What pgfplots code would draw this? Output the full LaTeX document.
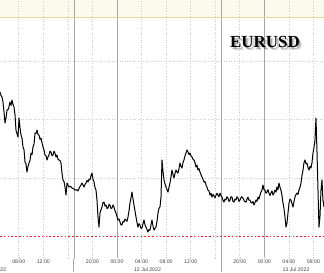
\documentclass[border=0pt]{standalone}
\usepackage{pgfplots}
\pgfplotsset{compat=1.18}
\usepackage{fontspec}
\setmainfont{Liberation Sans}
\newfontfamily\serifb{Liberation Serif}
\definecolor{cream}{RGB}{252,250,236}
\definecolor{tanline}{RGB}{226,214,165}
\definecolor{parity}{RGB}{226,42,52}
\definecolor{gridgray}{RGB}{205,205,205}
\definecolor{sessgray}{RGB}{165,165,165}
\begin{document}
\begin{tikzpicture}
\begin{axis}[
  set layers,
  at={(0,14bp)}, anchor=south west,
  width=324bp, height=259bp, scale only axis,
  xmin=4.945, xmax=57.72, ymin=0.99808, ymax=1.02021,
  axis line style={draw=none},
  ytick={1.000,1.005,1.010,1.015}, yticklabels={},
  ytick style={draw=none},
  xtick={8,12,16,20,28,32,36,40,44,52,56},
  xticklabels={08:00,12:00,,20:00,04:00,08:00,12:00,,20:00,04:00,08:00},
  extra x ticks={24,48},
  extra x tick labels={00:00,00:00},
  extra x tick style={major grid style={solid, sessgray, line width=0.7bp}},
  xmajorgrids, ymajorgrids,
  grid style={gridgray, line width=0.6bp, dash pattern=on 1bp off 1.6bp},
  tick pos=bottom,
  major tick length=2bp,
  xtick style={gridgray, line width=0.5bp},
  x tick label style={font=\fontsize{5.2}{5.2}\selectfont, text=black!75, inner sep=1bp},
  clip=true,
]
% cream band at top
\addplot[on layer=axis background, fill=cream, draw=none] coordinates {(4.945,1.01876) (57.72,1.01876) (57.72,1.02021) (4.945,1.02021) (4.945,1.01876)};
% session lines (17:00 NY close)
\addplot[sessgray, line width=0.7bp] coordinates {(17,0.99808) (17,1.02021)};
\addplot[sessgray, line width=0.7bp] coordinates {(41,0.99808) (41,1.02021)};
% reference level
\addplot[tanline, line width=0.8bp] coordinates {(4.945,1.01876) (57.72,1.01876)};
% parity
\addplot[parity, line width=1.6bp, dash pattern=on 1.5bp off 2.3bp] coordinates {(4.945,1.0000) (57.72,1.0000)};
% EURUSD
\addplot[black, line width=1.0bp, line join=round] table {
t p
4.95 1.01235
5.11 1.01205
5.27 1.01192
5.43 1.01150
5.60 1.01064
5.76 1.00970
5.92 1.01010
6.09 1.01081
6.33 1.01090
6.57 1.01149
6.74 1.01120
6.90 1.01166
7.06 1.01130
7.22 1.01107
7.39 1.01040
7.55 1.00910
7.71 1.00880
7.88 1.00850
8.04 1.01013
8.20 1.00930
8.37 1.00867
8.53 1.00840
8.69 1.00765
8.86 1.00740
9.02 1.00636
9.18 1.00620
9.34 1.00551
9.51 1.00600
9.67 1.00628
9.83 1.00650
10.00 1.00713
10.16 1.00700
10.32 1.00765
10.49 1.00790
10.65 1.00884
10.81 1.00880
10.97 1.00910
11.14 1.00870
11.30 1.00867
11.46 1.00830
11.62 1.00842
11.79 1.00800
11.95 1.00765
12.11 1.00740
12.27 1.00696
12.44 1.00690
12.60 1.00654
12.76 1.00680
12.93 1.00696
13.09 1.00730
13.25 1.00722
13.41 1.00690
13.58 1.00696
13.74 1.00730
13.90 1.00713
14.07 1.00680
14.23 1.00696
14.39 1.00660
14.55 1.00654
14.72 1.00650
14.88 1.00628
15.04 1.00542
15.21 1.00483
15.37 1.00470
15.53 1.00423
15.69 1.00354
15.86 1.00457
16.02 1.00440
16.18 1.00423
16.43 1.00430
16.67 1.00414
16.92 1.00410
17.16 1.00397
17.41 1.00400
17.65 1.00389
17.89 1.00420
18.14 1.00440
18.30 1.00457
18.46 1.00440
18.63 1.00423
18.79 1.00445
18.95 1.00457
19.12 1.00480
19.28 1.00465
19.44 1.00490
19.60 1.00483
19.77 1.00520
19.93 1.00542
20.09 1.00490
20.26 1.00465
20.42 1.00420
20.58 1.00397
20.74 1.00312
20.91 1.00166
21.07 1.00081
21.23 1.00201
21.40 1.00230
21.56 1.00252
21.72 1.00290
21.88 1.00294
22.05 1.00260
22.21 1.00269
22.37 1.00240
22.54 1.00243
22.70 1.00275
22.86 1.00269
23.02 1.00240
23.19 1.00243
23.35 1.00270
23.51 1.00252
23.68 1.00220
23.84 1.00201
24.00 1.00170
24.16 1.00141
24.33 1.00150
24.49 1.00124
24.65 1.00100
24.81 1.00098
24.98 1.00130
25.14 1.00124
25.30 1.00150
25.47 1.00141
25.63 1.00130
25.79 1.00166
25.96 1.00220
26.12 1.00286
26.28 1.00330
26.44 1.00380
26.61 1.00320
26.77 1.00269
26.93 1.00220
27.10 1.00166
27.26 1.00120
27.42 1.00081
27.59 1.00110
27.75 1.00098
27.91 1.00070
28.07 1.00072
28.24 1.00110
28.40 1.00141
28.56 1.00100
28.72 1.00081
28.89 1.00060
29.05 1.00038
29.21 1.00060
29.38 1.00055
29.54 1.00100
29.70 1.00141
29.86 1.00090
30.03 1.00055
30.19 1.00070
30.35 1.00081
30.52 1.00130
30.68 1.00201
30.84 1.00240
31.00 1.00252
31.17 1.00337
31.33 1.00654
31.49 1.00560
31.66 1.00483
31.82 1.00450
31.98 1.00423
32.15 1.00400
32.31 1.00380
32.47 1.00420
32.63 1.00457
32.80 1.00510
32.96 1.00568
33.12 1.00530
33.29 1.00500
33.45 1.00540
33.61 1.00568
33.78 1.00550
33.94 1.00542
34.10 1.00580
34.26 1.00628
34.43 1.00600
34.59 1.00585
34.75 1.00630
34.91 1.00654
35.08 1.00690
35.24 1.00713
35.40 1.00740
35.57 1.00722
35.73 1.00700
35.89 1.00713
36.05 1.00690
36.22 1.00679
36.38 1.00660
36.54 1.00654
36.71 1.00630
36.87 1.00594
37.03 1.00610
37.19 1.00568
37.36 1.00580
37.52 1.00551
37.68 1.00530
37.85 1.00508
38.01 1.00490
38.17 1.00465
38.33 1.00470
38.50 1.00440
38.66 1.00420
38.82 1.00397
38.99 1.00390
39.15 1.00354
39.31 1.00370
39.47 1.00337
39.64 1.00360
39.80 1.00346
39.96 1.00330
40.13 1.00354
40.29 1.00370
40.45 1.00354
40.61 1.00340
40.78 1.00371
40.94 1.00350
41.10 1.00337
41.27 1.00310
41.43 1.00294
41.59 1.00320
41.75 1.00312
41.92 1.00340
42.08 1.00329
42.24 1.00300
42.41 1.00312
42.57 1.00340
42.73 1.00337
42.89 1.00300
43.06 1.00294
43.22 1.00320
43.38 1.00312
43.55 1.00340
43.71 1.00329
43.87 1.00300
44.03 1.00312
44.28 1.00340
44.52 1.00329
44.76 1.00300
45.01 1.00294
45.17 1.00320
45.34 1.00337
45.50 1.00310
45.66 1.00312
45.82 1.00290
45.99 1.00286
46.15 1.00300
46.31 1.00269
46.48 1.00290
46.64 1.00312
46.80 1.00300
46.97 1.00337
47.13 1.00320
47.29 1.00354
47.45 1.00380
47.62 1.00397
47.78 1.00440
47.94 1.00400
48.11 1.00397
48.27 1.00370
48.43 1.00380
48.60 1.00400
48.76 1.00371
48.92 1.00350
49.08 1.00371
49.25 1.00390
49.41 1.00354
49.57 1.00370
49.73 1.00397
49.90 1.00380
50.06 1.00423
50.22 1.00400
50.39 1.00457
50.55 1.00420
50.71 1.00397
50.88 1.00350
51.04 1.00286
51.20 1.00240
51.36 1.00166
51.53 1.00081
51.69 1.00115
51.85 1.00200
52.02 1.00286
52.18 1.00320
52.34 1.00312
52.51 1.00280
52.67 1.00252
52.83 1.00300
52.99 1.00337
53.16 1.00360
53.32 1.00371
53.48 1.00360
53.64 1.00397
53.81 1.00420
53.97 1.00457
54.13 1.00520
54.30 1.00568
54.46 1.00630
54.62 1.00654
54.79 1.00620
54.95 1.00628
55.11 1.00590
55.27 1.00568
55.44 1.00600
55.60 1.00585
55.76 1.00630
55.92 1.00713
56.09 1.00760
56.25 1.00824
56.41 1.01013
56.57 1.00739
56.74 1.00397
56.90 1.00081
57.06 1.00166
57.23 1.00397
57.39 1.00483
57.55 1.00312
57.72 1.00252
};
% bottom axis line
\draw[gray!55, line width=0.6bp] (rel axis cs:0,0) -- (rel axis cs:1,0);
\end{axis}
% long ticks at session lines (17:00)
\draw[sessgray, line width=0.7bp] (73.8bp,14bp) -- (73.8bp,1bp);
\draw[sessgray, line width=0.7bp] (221bp,14bp) -- (221bp,1bp);
% date labels
\begin{scope}[every node/.style={font=\fontsize{5.2}{5.2}\selectfont, text=black!75, inner sep=0pt}]
\node at (-7bp,3bp) {11 Jul 2022};
\node at (147.5bp,3bp) {12 Jul 2022};
\node at (296bp,3bp) {13 Jul 2022};
\end{scope}
% title with soft shadow
\begin{scope}[every node/.style={font=\serifb\bfseries\fontsize{17}{17}\selectfont, anchor=base, inner sep=0pt}]
\node[text=black, opacity=0.15] at (267.8bp,222.4bp) {EURUSD};
\node[text=black, opacity=0.25] at (266.6bp,223.4bp) {EURUSD};
\node[text=black] at (265bp,225bp) {EURUSD};
\end{scope}
\pgfresetboundingbox
\path[use as bounding box] (0,0) rectangle (324bp,273bp);
\end{tikzpicture}
\end{document}
